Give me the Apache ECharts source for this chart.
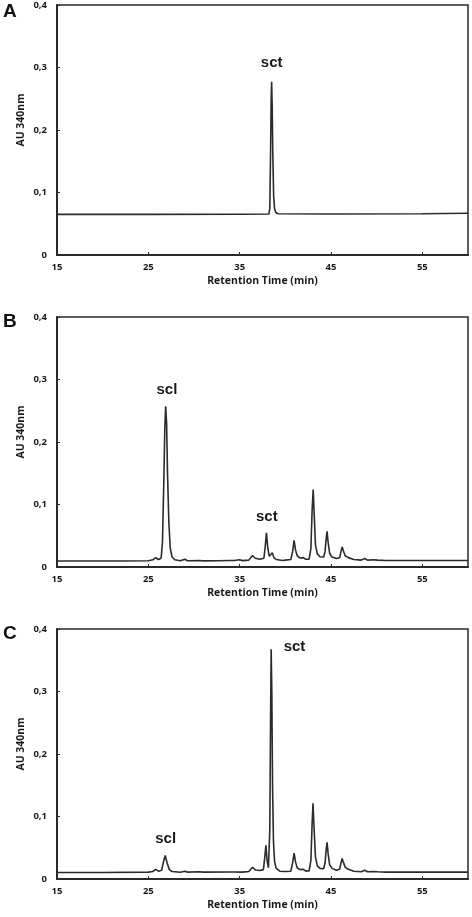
<!DOCTYPE html>
<html>
<head>
<meta charset="utf-8">
<script src="https://cdn.jsdelivr.net/npm/echarts@6/dist/echarts.min.js"></script>
<style>
  html, body { margin: 0; padding: 0; background: #fff; }
  #chart { width: 472px; height: 917px; }
</style>
</head>
<body>
<div id="chart"></div>
<script>
// x ticks and y ticks
const timeTicks = [15, 25, 35, 45, 55];
const auTicks = [0, 0.1, 0.2, 0.3, 0.4];
const panelNames = ['A', 'B', 'C'];

// chromatogram traces: [retention time (min), AU 340nm]
const traceA = [
  [15, 0.065], [25, 0.065], [35, 0.0652], [38.2, 0.0655], [38.3, 0.075], [38.38, 0.16],
  [38.45, 0.25], [38.5, 0.277], [38.56, 0.24], [38.63, 0.16], [38.72, 0.095], [38.82, 0.074],
  [38.95, 0.068], [39.2, 0.066], [45, 0.0655], [55, 0.066], [60, 0.0668]
];

const traceB = [
  [15, 0.0095], [18, 0.0095], [22, 0.0097], [25, 0.010], [25.5, 0.0115], [25.8, 0.015],
  [26.1, 0.012], [26.4, 0.014], [26.55, 0.04], [26.7, 0.14], [26.8, 0.22], [26.9, 0.257],
  [27.0, 0.23], [27.1, 0.15], [27.25, 0.07], [27.4, 0.03], [27.6, 0.016], [27.9, 0.0115],
  [28.5, 0.010], [29.0, 0.0125], [29.3, 0.010], [30.6, 0.0105], [31, 0.0098], [32.5, 0.010],
  [34.0, 0.0105], [34.2, 0.0135], [34.4, 0.0105], [35.0, 0.0115], [35.3, 0.0102], [36.0, 0.011],
  [36.4, 0.0185], [36.7, 0.014], [37.2, 0.0125], [37.65, 0.014], [37.78, 0.03], [37.93, 0.0545],
  [38.08, 0.03], [38.25, 0.017], [38.4, 0.018], [38.57, 0.023], [38.75, 0.015], [39.0, 0.012],
  [39.7, 0.0105], [40.0, 0.011], [40.6, 0.012], [40.8, 0.025], [40.96, 0.0425], [41.12, 0.027],
  [41.3, 0.018], [41.6, 0.0145], [41.98, 0.015], [42.2, 0.0125], [42.6, 0.0125], [42.8, 0.03],
  [42.93, 0.09], [43.05, 0.124], [43.17, 0.08], [43.3, 0.035], [43.5, 0.021], [43.8, 0.0165],
  [44.2, 0.016], [44.35, 0.025], [44.47, 0.045], [44.57, 0.057], [44.68, 0.04], [44.85, 0.022],
  [45.1, 0.016], [45.6, 0.0135], [45.95, 0.015], [46.1, 0.025], [46.22, 0.032], [46.35, 0.026],
  [46.55, 0.018], [46.9, 0.015], [47.5, 0.012], [48.3, 0.011], [48.7, 0.0135], [49.0, 0.011],
  [49.7, 0.0115], [50.1, 0.011], [51, 0.0103], [53.0, 0.0105], [53.15, 0.013], [53.35, 0.0105],
  [56, 0.0103], [60, 0.0103]
];

const traceC = [
  [15, 0.0105], [20, 0.0105], [25, 0.011], [25.5, 0.012], [25.8, 0.0155], [26.1, 0.0125],
  [26.45, 0.014], [26.65, 0.027], [26.85, 0.0375], [27.05, 0.026], [27.3, 0.015], [27.6, 0.012],
  [28.5, 0.0108], [29.0, 0.0125], [29.3, 0.011], [30.6, 0.0115], [31, 0.011], [34.0, 0.0112],
  [34.2, 0.0138], [34.4, 0.0112], [35.3, 0.011], [36.0, 0.012], [36.4, 0.0188], [36.7, 0.0145],
  [37.2, 0.0135], [37.6, 0.015], [37.75, 0.035], [37.87, 0.054], [38.0, 0.03], [38.15, 0.018],
  [38.22, 0.017], [38.3, 0.08], [38.38, 0.25], [38.45, 0.3675], [38.52, 0.30], [38.6, 0.15],
  [38.7, 0.06], [38.82, 0.028], [39.0, 0.017], [39.4, 0.0125], [40.0, 0.012], [40.6, 0.0125],
  [40.8, 0.026], [40.96, 0.0415], [41.12, 0.027], [41.3, 0.018], [41.6, 0.015], [41.98, 0.0155],
  [42.2, 0.013], [42.6, 0.013], [42.8, 0.03], [42.93, 0.088], [43.03, 0.121], [43.15, 0.08],
  [43.3, 0.035], [43.5, 0.021], [43.8, 0.017], [44.2, 0.0165], [44.35, 0.026], [44.47, 0.047],
  [44.57, 0.0587], [44.68, 0.041], [44.85, 0.023], [45.1, 0.017], [45.6, 0.014], [45.95, 0.016],
  [46.1, 0.026], [46.22, 0.033], [46.35, 0.027], [46.55, 0.019], [46.9, 0.0155], [47.5, 0.0125],
  [48.3, 0.0115], [48.7, 0.014], [49.0, 0.0115], [49.7, 0.012], [50.1, 0.0115], [51, 0.011],
  [53.0, 0.011], [53.15, 0.0135], [53.35, 0.011], [56, 0.011], [60, 0.011]
];

// peak annotations: [time, au, text]
const peakLabelsA = [[38.5, 0.307, 'sct']];
const peakLabelsB = [[27.03, 0.283, 'scl'], [37.97, 0.081, 'sct']];
const peakLabelsC = [[41.0, 0.372, 'sct'], [26.9, 0.065, 'scl']];

const traces = [traceA, traceB, traceC];
const peakLabels = [peakLabelsA, peakLabelsB, peakLabelsC];
const gridTops = [5, 317, 629];

const chart = echarts.init(document.getElementById('chart'), null, { renderer: 'canvas' });

const tickFont = { fontFamily: 'Open Sans', fontWeight: 'bold', fontSize: 9.5, color: '#1a1a1a' };
const titleFont = { fontFamily: 'Open Sans', fontWeight: 'bold', fontSize: 10.5, color: '#1a1a1a' };

let grids = [], xAxes = [], yAxes = [], series = [], graphics = [];
for (let i = 0; i < 3; i++) {
    grids.push({
        left: 57, right: 4, top: gridTops[i], height: 250,
        show: true, borderColor: '#2a2a2a', borderWidth: 1.5
    });
    xAxes.push({
        gridIndex: i, type: 'value', min: 15, max: 60,
        name: 'Retention Time (min)', nameLocation: 'middle', nameGap: 21,
        nameTextStyle: titleFont,
        axisLine: { show: true, lineStyle: { color: '#2a2a2a', width: 2 } },
        axisTick: { show: true, inside: true, length: 3, customValues: timeTicks, lineStyle: { color: '#2a2a2a' } },
        axisLabel: Object.assign({ margin: 7, customValues: timeTicks }, tickFont),
        splitLine: { show: false }
    });
    yAxes.push({
        gridIndex: i, type: 'value', min: 0, max: 0.4, interval: 0.1,
        name: 'AU 340nm', nameLocation: 'middle', nameGap: 30, nameMoveOverlap: false,
        nameTextStyle: Object.assign({ padding: [0, 0, 0, 20] }, titleFont),
        axisLine: { show: true, lineStyle: { color: '#2a2a2a', width: 2 } },
        axisTick: { show: true, inside: true, length: 3, lineStyle: { color: '#2a2a2a' } },
        axisLabel: Object.assign({
            margin: 10,
            formatter: v => v === 0 ? '0' : v.toFixed(1).replace('.', ',')
        }, tickFont),
        splitLine: { show: false }
    });
    series.push({
        type: 'line', xAxisIndex: i, yAxisIndex: i,
        data: traces[i], showSymbol: false, smooth: false,
        lineStyle: { color: '#2b2b2b', width: 1.6 },
        silent: true,
        markPoint: {
            symbol: 'circle', symbolSize: 0,
            label: {
                show: true, position: 'inside',
                fontFamily: 'Liberation Sans', fontWeight: 'bold', fontSize: 15, color: '#1a1a1a',
                formatter: p => p.name
            },
            data: peakLabels[i].map(d => ({ coord: [d[0], d[1]], name: d[2], value: d[2] }))
        }
    });
    graphics.push({
        type: 'text', left: 3, top: gridTops[i] - 3 + (i === 0 ? 0 : -2),
        style: { text: panelNames[i], fontFamily: 'Liberation Sans', fontWeight: 'bold', fontSize: 19, fill: '#111' }
    });
}

chart.setOption({
    animation: false,
    grid: grids,
    xAxis: xAxes,
    yAxis: yAxes,
    series: series,
    graphic: graphics
});
</script>
</body>
</html>
